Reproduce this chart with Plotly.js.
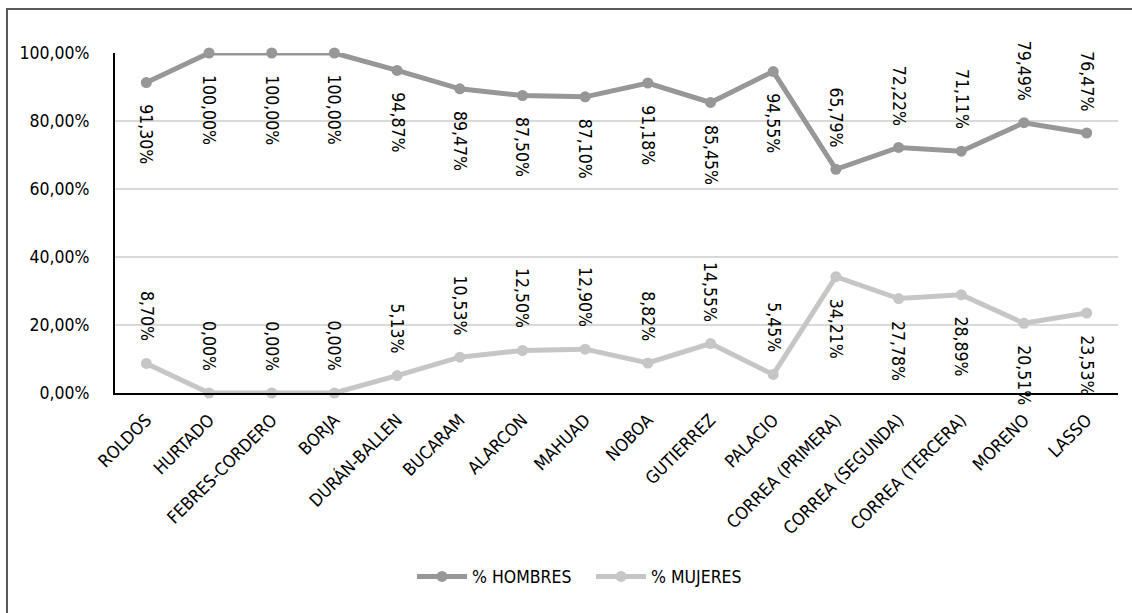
<!DOCTYPE html>
<html>
<head>
<meta charset="utf-8">
<script src="https://cdn.plot.ly/plotly-3.0.1.min.js"></script>
<style>
  html, body { margin: 0; padding: 0; background: #fff; }
  #wrap { position: relative; width: 1132px; height: 613px; overflow: hidden; }
  #chart { width: 1132px; height: 613px; }
  #frame { position: absolute; left: 6px; top: 8px; width: 1200px; height: 700px;
           border-left: 2px solid #5a5a5a; border-top: 2px solid #5a5a5a; pointer-events: none; }
</style>
</head>
<body>
<div id="wrap">
  <div id="chart"></div>
  <div id="frame"></div>
</div>
<script>
const categories = ["ROLDOS", "HURTADO", "FEBRES-CORDERO", "BORJA", "DURÁN-BALLEN", "BUCARAM",
  "ALARCON", "MAHUAD", "NOBOA", "GUTIERREZ", "PALACIO", "CORREA (PRIMERA)",
  "CORREA (SEGUNDA)", "CORREA (TERCERA)", "MORENO", "LASSO"];
const hombres = [91.30, 100.00, 100.00, 100.00, 94.87, 89.47, 87.50, 87.10, 91.18, 85.45,
  94.55, 65.79, 72.22, 71.11, 79.49, 76.47];
const mujeres = [8.70, 0.00, 0.00, 0.00, 5.13, 10.53, 12.50, 12.90, 8.82, 14.55,
  5.45, 34.21, 27.78, 28.89, 20.51, 23.53];
const hombresLabelBelow = [true, true, true, true, true, true, true, true, true, true,
  true, false, false, false, false, false];
const mujeresLabelAbove = [true, true, true, true, true, true, true, true, true, true,
  true, false, false, false, false, false];
const yTicks = [0, 20, 40, 60, 80, 100];
const yTickText = ["0,00%", "20,00%", "40,00%", "60,00%", "80,00%", "100,00%"];

const FONT = "'DejaVu Sans Condensed', 'Liberation Sans Narrow', sans-serif";
const FS = 17.5;
const fmt = v => v.toFixed(2).replace('.', ',') + '%';

const cH = '#979797', cM = '#c6c6c6';

const traces = [
  { x: categories, y: hombres, name: '% HOMBRES', type: 'scatter', mode: 'lines+markers',
    line: { color: cH, width: 5 }, marker: { color: cH, size: 11 }, cliponaxis: false, hoverinfo: 'skip' },
  { x: categories, y: mujeres, name: '% MUJERES', type: 'scatter', mode: 'lines+markers',
    line: { color: cM, width: 5 }, marker: { color: cM, size: 11 }, cliponaxis: false, hoverinfo: 'skip' }
];

const annotations = [];
categories.forEach((c, i) => {
  const below = hombresLabelBelow[i];
  annotations.push({ x: c, y: hombres[i], xref: 'x', yref: 'y', text: fmt(hombres[i]),
    showarrow: false, textangle: 90, xanchor: 'center', yanchor: below ? 'top' : 'bottom',
    yshift: below ? -20 : 20, font: { family: FONT, size: FS, color: '#000' } });
  const above = mujeresLabelAbove[i];
  annotations.push({ x: c, y: mujeres[i], xref: 'x', yref: 'y', text: fmt(mujeres[i]),
    showarrow: false, textangle: 90, xanchor: 'center', yanchor: above ? 'bottom' : 'top',
    yshift: above ? 20 : -20, font: { family: FONT, size: FS, color: '#000' } });
});

const layout = {
  width: 1132, height: 613,
  margin: { l: 115, r: 14, t: 53, b: 220 },
  paper_bgcolor: '#fff', plot_bgcolor: '#fff',
  font: { family: FONT, size: FS, color: '#000' },
  showlegend: true,
  legend: { orientation: 'h', x: 0.4746, xanchor: 'center', y: -0.54, yanchor: 'middle',
    font: { family: FONT, size: FS, color: '#000' }, itemwidth: 50, tracegroupgap: 0,
    entrywidth: 114, entrywidthmode: 'pixels' },
  xaxis: { type: 'category', range: [-0.5, 15.5], tickangle: -45, showgrid: false, zeroline: false,
    showline: true, linecolor: '#000', linewidth: 2, ticks: '', ticklabelstandoff: 8,
    tickfont: { family: FONT, size: FS, color: '#000' } },
  yaxis: { range: [0, 100], tickvals: yTicks, ticktext: yTickText, showgrid: true,
    gridcolor: '#d9d9d9', gridwidth: 1.5, zeroline: false, showline: true, linecolor: '#000',
    linewidth: 2, ticks: '', ticklabelstandoff: 20,
    tickfont: { family: FONT, size: FS, color: '#000' } },
  annotations: annotations
};

Plotly.newPlot('chart', traces, layout, { displayModeBar: false, staticPlot: true });
</script>
</body>
</html>
